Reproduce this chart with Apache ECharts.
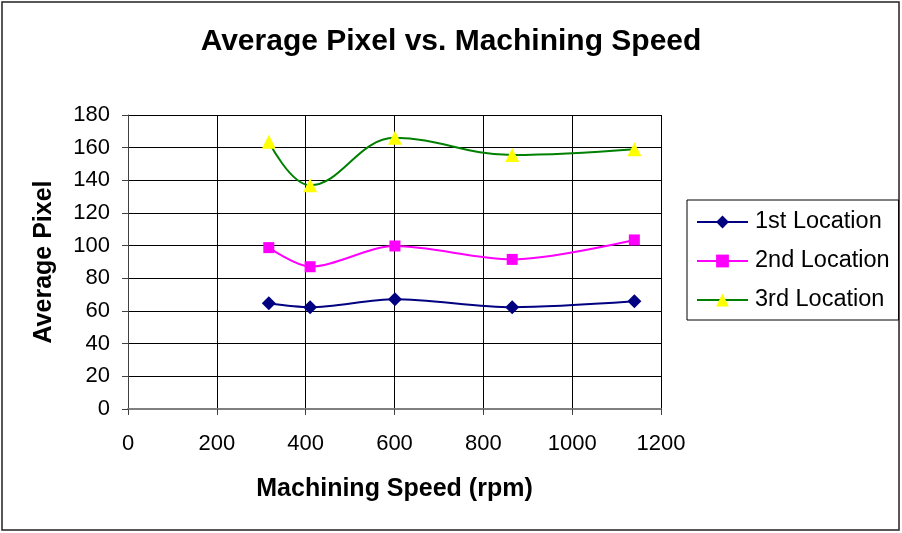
<!DOCTYPE html>
<html>
<head>
<meta charset="utf-8">
<script src="https://cdn.jsdelivr.net/npm/echarts@6/dist/echarts.min.js"></script>
<style>
  html, body { margin: 0; padding: 0; background: #fff; }
  #chart { width: 902px; height: 533px; }
</style>
</head>
<body>
<div id="chart"></div>
<script>
// Machining speeds (rpm) at which the pixel averages were measured
const speeds = [317, 410, 601, 865, 1140];

// Average pixel value at each measuring location
const location1 = [64.7, 62.3, 67.2, 62.3, 65.9];
const location2 = [98.8, 87.1, 99.8, 91.6, 103.5];
const location3 = [163.6, 137, 166, 155.5, 159];

const seriesNames = ['1st Location', '2nd Location', '3rd Location'];

const FONT = '"Liberation Sans", Arial, sans-serif';

function pairs(xs, ys) {
  return xs.map((x, i) => [x, ys[i]]);
}

const chart = echarts.init(document.getElementById('chart'), null, { renderer: 'canvas' });

chart.setOption({
  backgroundColor: '#fff',
  animation: false,
  title: {
    text: 'Average Pixel vs. Machining Speed',
    left: 'center',
    top: 22,
    textStyle: { fontFamily: FONT, fontSize: 30, fontWeight: 'bold', color: '#000' }
  },
  graphic: [{
    type: 'rect',
    shape: { x: 2, y: 2, width: 897, height: 528 },
    style: { fill: 'none', stroke: '#222', lineWidth: 1.5 },
    silent: true,
    z: -1
  }],
  legend: {
    orient: 'vertical',
    left: 687,
    top: 200,
    padding: [10, 9, 8, 9],
    itemWidth: 51,
    itemHeight: 16,
    itemGap: 15,
    borderColor: '#000',
    borderWidth: 1,
    textStyle: { fontFamily: FONT, fontSize: 23.5, lineHeight: 24, color: '#000', padding: [0, 0, 0, 2] },
    data: seriesNames
  },
  grid: { left: 128, right: 241, top: 115, bottom: 124 },
  xAxis: {
    type: 'value',
    min: 0, max: 1200, interval: 200,
    name: 'Machining Speed (rpm)',
    nameLocation: 'middle',
    nameGap: 68,
    nameTextStyle: { fontFamily: FONT, fontSize: 25, fontWeight: 'bold', color: '#000' },
    axisLine: { onZero: false, lineStyle: { color: '#808080', width: 2 } },
    axisTick: { show: true, inside: false, length: 6, lineStyle: { color: '#404040' } },
    axisLabel: { fontFamily: FONT, fontSize: 22, color: '#000', margin: 24, formatter: v => String(v) },
    splitLine: { show: true, lineStyle: { color: '#000', width: 1 } }
  },
  yAxis: {
    type: 'value',
    min: 0, max: 180, interval: 20,
    name: 'Average Pixel',
    nameLocation: 'middle',
    nameGap: 71,
    nameTextStyle: { fontFamily: FONT, fontSize: 25, fontWeight: 'bold', color: '#000' },
    axisLine: { show: true, lineStyle: { color: '#404040', width: 1 } },
    axisTick: { show: true, inside: false, length: 6, lineStyle: { color: '#404040' } },
    axisLabel: { fontFamily: FONT, fontSize: 22, color: '#000', margin: 18 },
    splitLine: { show: true, lineStyle: { color: '#000', width: 1 } }
  },
  series: [
    {
      name: seriesNames[0],
      type: 'line',
      data: pairs(speeds, location1),
      smooth: 0.3,
      symbol: 'diamond',
      symbolSize: 14,
      lineStyle: { color: '#000080', width: 2 },
      itemStyle: { color: '#000080' }
    },
    {
      name: seriesNames[1],
      type: 'line',
      data: pairs(speeds, location2),
      smooth: 0.3,
      symbol: 'rect',
      symbolSize: 11,
      lineStyle: { color: '#FF00FF', width: 2 },
      itemStyle: { color: '#FF00FF' }
    },
    {
      name: seriesNames[2],
      type: 'line',
      data: pairs(speeds, location3),
      smooth: 0.4,
      symbol: 'triangle',
      symbolSize: 14,
      lineStyle: { color: '#008000', width: 2 },
      itemStyle: { color: '#FFFF00' }
    }
  ]
});
</script>
</body>
</html>
